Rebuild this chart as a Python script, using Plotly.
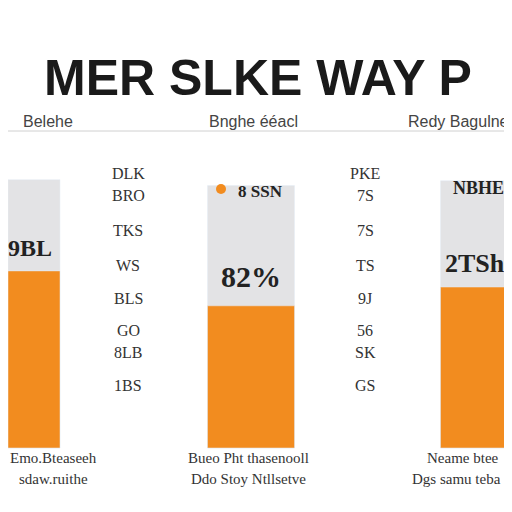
import plotly.graph_objects as go

# panel positions (x centers on a 0-512 axis) and widths
panel_x = [26, 243, 472]
panel_w = [52, 87, 79]
back_vals = [100, 97.8, 99.6]
bar_vals = [66, 53, 60]

mid_labels = ["DLK", "BRO", "TKS", "WS", "BLS", "GO", "8LB", "1BS"]
right_labels = ["PKE", "7S", "7S", "TS", "9J", "56", "SK", "GS"]
label_rows = [155, 187, 222, 257, 290, 322, 355, 388]

fig = go.Figure()
fig.add_bar(x=panel_x, y=back_vals, width=panel_w, marker_color="#e3e3e5", hoverinfo="skip")
fig.add_bar(x=panel_x, y=bar_vals, width=panel_w, marker_color="#f28c1f", hoverinfo="skip")

H = 512
def py(p):
    return 1 - p / H

ann = []
ann.append(dict(x=250, y=py(40), xref="x", yref="paper", text="<b>MER SLKE WAY P</b>",
                showarrow=False, font=dict(size=50, color="#1a1a1a", family="Liberation Sans")))
for x, s in [(40, "Belehe"), (245, "Bnghe ééacl"), (450, "Redy Bagulne")]:
    ann.append(dict(x=x, y=py(103), xref="x", yref="paper", text=s, showarrow=False,
                    font=dict(size=16, color="#444", family="Liberation Sans")))
for lab, r in zip(mid_labels, label_rows):
    ann.append(dict(x=120, y=py(r), xref="x", yref="paper", text=lab, showarrow=False,
                    font=dict(size=16, color="#333", family="Liberation Serif")))
for lab, r in zip(right_labels, label_rows):
    ann.append(dict(x=357, y=py(r), xref="x", yref="paper", text=lab, showarrow=False,
                    font=dict(size=16, color="#333", family="Liberation Serif")))
for x, r, s, sz in [(22, 240, "9BL", 24), (252, 183, "8 SSN", 17), (243, 268, "82%", 30),
                    (470, 168, "NBHE", 18), (470, 255, "2TSh.", 26)]:
    ann.append(dict(x=x, y=py(r), xref="x", yref="paper", text="<b>" + s + "</b>", showarrow=False,
                    font=dict(size=sz, color="#222", family="Liberation Serif")))
for x, r, s in [(45, 460, "Emo.Bteaseeh"), (45, 481, "sdaw.ruithe"), (240, 460, "Bueo Pht thasenooll"),
                (240, 481, "Ddo Stoy Ntllsetve"), (455, 460, "Neame btee"), (448, 481, "Dgs samu teba")]:
    ann.append(dict(x=x, y=py(r), xref="x", yref="paper", text=s, showarrow=False,
                    font=dict(size=15, color="#333", family="Liberation Serif")))

fig.update_layout(
    width=512, height=512, margin=dict(l=0, r=0, t=0, b=0),
    barmode="overlay", showlegend=False, plot_bgcolor="white", paper_bgcolor="white",
    xaxis=dict(range=[0, 512], visible=False),
    yaxis=dict(range=[-26.84, 164], visible=False),
    annotations=ann,
    shapes=[dict(type="line", xref="paper", yref="paper", x0=0, x1=1, y0=py(123), y1=py(123),
                 line=dict(color="#d0d0d0", width=1)),
            dict(type="circle", xref="x", yref="paper", x0=208, x1=218, y0=py(186), y1=py(176),
                 fillcolor="#f28c1f", line_width=0)],
)

fig.write_html("out.html")
